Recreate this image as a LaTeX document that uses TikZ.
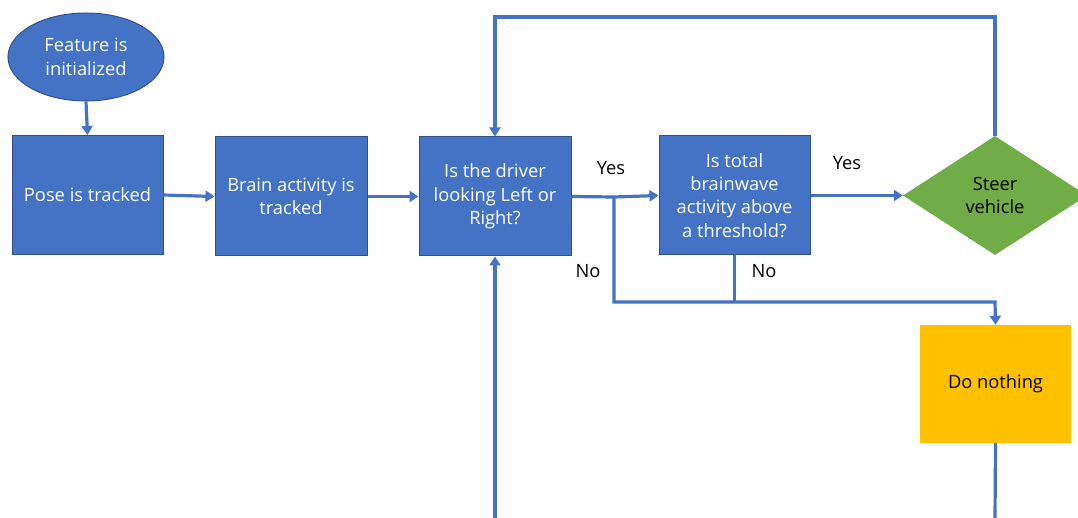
\documentclass[tikz,border=0pt]{standalone}
\usepackage{fontspec}
\setmainfont{Open Sans}
\usetikzlibrary{shapes.geometric,arrows.meta}
\definecolor{bfill}{HTML}{4472C4}
\definecolor{bdraw}{HTML}{2F528F}
\definecolor{gfill}{HTML}{70AD47}
\definecolor{yfill}{HTML}{FFC000}
\begin{document}
\begin{tikzpicture}[x=1pt,y=-1pt,
  every node/.style={font=\fontsize{18.3}{23.3}\selectfont, align=center, inner sep=0pt},
  bluebox/.style={rectangle, fill=bfill, draw=bdraw, line width=1pt, text=white, minimum width=151pt, minimum height=119pt},
  conn/.style={draw=bfill, line width=3.2pt},
  arr/.style={conn, -{Triangle[length=9pt,width=11pt]}},
  lbl/.style={text=black}]
\clip (0,0) rectangle (1078,518);
\useasboundingbox (0,0) rectangle (1078,518);
\node[ellipse, fill=bfill, draw=bdraw, line width=1pt, text=white, minimum width=156pt, minimum height=88pt] (init) at (86,57) {Feature is\\initialized};
\node[bluebox] (pose) at (87.5,195) {Pose is tracked};
\node[bluebox, minimum width=152pt] (brain) at (291,196.5) {Brain activity is\\tracked};
\node[bluebox, minimum width=152pt] (driver) at (495,196.5) {Is the driver\\looking Left or\\Right?};
\node[bluebox] (thr) at (734.5,195.5) {Is total\\brainwave\\activity above\\a threshold?};
\node[diamond, fill=gfill, text=black, minimum width=184pt, minimum height=119pt, aspect=1.55] (steer) at (995,195.5) {Steer\\vehicle};
\node[rectangle, fill=yfill, text=black, minimum width=151pt, minimum height=118pt] (nothing) at (995.5,384) {Do nothing};
\coordinate (split) at (614,197);
\coordinate (jn) at (995,302);
\coordinate (toploop) at (995,17);
\coordinate (bot1) at (495,518);
\coordinate (bot2) at (995,518);
\draw[arr] (init.south) -- (pose.north);
\draw[arr] (pose.east) -- (brain.west);
\draw[arr] (brain.east) -- (driver.west);
\draw[conn] (driver.east) -- (split);
\draw[arr] (split) -- (thr.west);
\draw[arr] (split) |- (jn) -- (nothing.north);
\draw[conn] (thr.south) -- (thr.south |- jn);
\draw[arr] (thr.east) -- (steer.west);
\draw[arr] (steer.north) -- (toploop) -| (driver.north);
\draw[arr] (bot1) -- (driver.south);
\draw[conn] (nothing.south) -- (bot2);
\node[lbl] (yes1) at (611,168) {Yes};
\node[lbl] (yes2) at (847,163) {Yes};
\node[lbl] (no1) at (588,271) {No};
\node[lbl] (no2) at (764,271) {No};
\end{tikzpicture}
\end{document}
